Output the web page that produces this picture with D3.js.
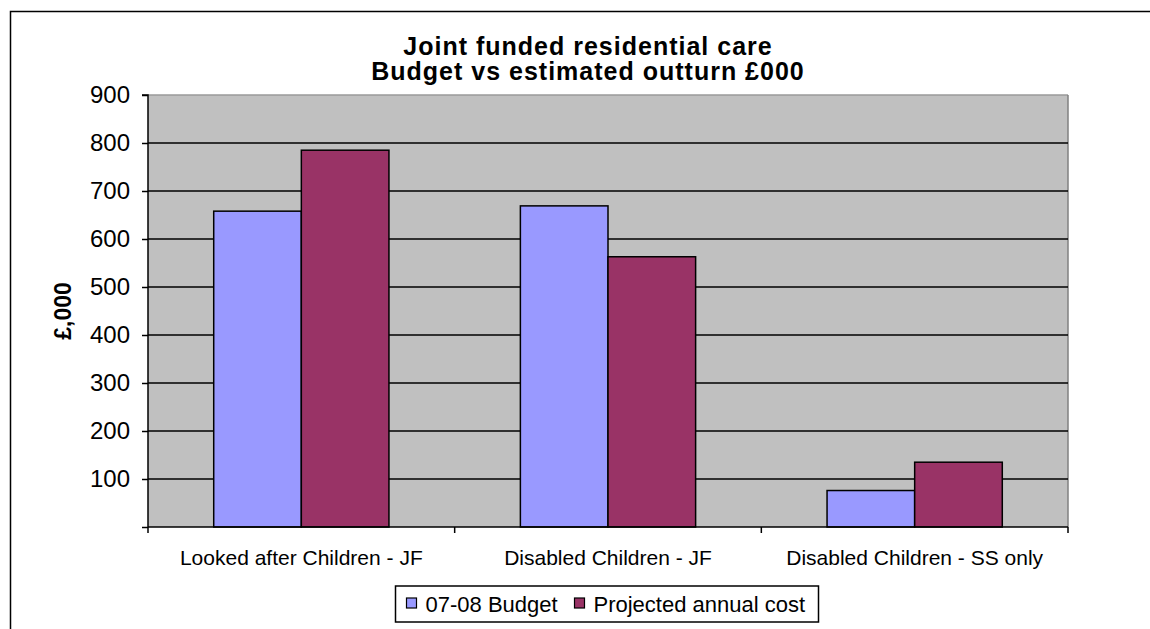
<!DOCTYPE html>
<html>
<head>
<meta charset="utf-8">
<script src="https://cdn.jsdelivr.net/npm/d3@7"></script>
<style>
  html, body { margin: 0; padding: 0; background: #ffffff; }
  svg { display: block; font-family: Arial, "Liberation Sans", sans-serif; }
</style>
</head>
<body>
<svg id="chart" width="1150" height="629"></svg>
<script>
// ---- data ----
const categories = ["Looked after Children - JF", "Disabled Children - JF", "Disabled Children - SS only"];
const seriesNames = ["07-08 Budget", "Projected annual cost"];
const budget = [658, 669, 76];
const projected = [785, 563, 135];
const yTickValues = [0, 100, 200, 300, 400, 500, 600, 700, 800, 900];
const yLabelValues = [100, 200, 300, 400, 500, 600, 700, 800, 900];
const titleLines = ["Joint funded residential care", "Budget vs estimated outturn £000"];
const yAxisTitle = "£,000";
const colors = ["#9999FF", "#993366"];

const svg = d3.select("#chart");

// outer chart border
svg.append("rect")
  .attr("x", 10.5).attr("y", 11.5)
  .attr("width", 1160).attr("height", 640)
  .attr("fill", "#ffffff").attr("stroke", "#000").attr("stroke-width", 1.5);

const plot = { left: 148, right: 1068, top: 95, bottom: 527 };

const x = d3.scaleBand().domain(categories).range([plot.left, plot.right]).paddingInner(0).paddingOuter(0);
const xs = d3.scaleBand().domain(seriesNames).range([0, x.bandwidth()]).paddingInner(0).paddingOuter(0.75);
const y = d3.scaleLinear().domain([0, 900]).range([plot.bottom, plot.top]);

// plot area background
svg.append("rect")
  .attr("x", plot.left).attr("y", plot.top)
  .attr("width", plot.right - plot.left).attr("height", plot.bottom - plot.top)
  .attr("fill", "#C0C0C0");

// top and right border of plot area
svg.append("line").attr("x1", plot.left).attr("x2", plot.right).attr("y1", plot.top).attr("y2", plot.top)
  .attr("stroke", "#9a9a9a").attr("stroke-width", 1.5);
svg.append("line").attr("x1", plot.right).attr("x2", plot.right).attr("y1", plot.top).attr("y2", plot.bottom)
  .attr("stroke", "#808080").attr("stroke-width", 1.5);

// gridlines
svg.append("g").selectAll("line")
  .data(yTickValues.filter(v => v > 0 && v < 900))
  .join("line")
  .attr("x1", plot.left).attr("x2", plot.right)
  .attr("y1", d => y(d)).attr("y2", d => y(d))
  .attr("stroke", "#000").attr("stroke-width", 1.5);

// bars
const data = categories.map((c, i) => ({ cat: c, values: [budget[i], projected[i]] }));
const groups = svg.append("g").selectAll("g")
  .data(data).join("g")
  .attr("transform", d => `translate(${x(d.cat)},0)`);
groups.selectAll("rect")
  .data(d => d.values.map((v, j) => ({ name: seriesNames[j], v, j })))
  .join("rect")
  .attr("x", d => xs(d.name))
  .attr("width", xs.bandwidth())
  .attr("y", d => y(d.v))
  .attr("height", d => y(0) - y(d.v))
  .attr("fill", d => colors[d.j])
  .attr("stroke", "#000").attr("stroke-width", 1.5);

// y axis
const yAxis = d3.axisLeft(y).tickValues(yTickValues).tickSize(6)
  .tickFormat(d => yLabelValues.includes(d) ? d : "");
const yg = svg.append("g").attr("transform", `translate(${plot.left},0)`).call(yAxis);
yg.select(".domain").attr("stroke", "#000").attr("stroke-width", 1.5).attr("d", `M-6,${plot.top}H0V${plot.bottom}`);
yg.selectAll(".tick line").attr("stroke", "#000").attr("stroke-width", 1.5);
yg.selectAll(".tick text")
  .attr("x", -18).attr("dy", "0.32em")
  .attr("font-size", 24).attr("fill", "#000")
  .attr("font-family", "Arial, 'Liberation Sans', sans-serif");

// x axis
const xg = svg.append("g").attr("transform", `translate(0,${plot.bottom})`);
xg.append("line").attr("x1", plot.left).attr("x2", plot.right).attr("y1", 0).attr("y2", 0)
  .attr("stroke", "#000").attr("stroke-width", 1.5);
const bounds = categories.map(c => x(c)).concat([x(categories[categories.length - 1]) + x.bandwidth()]);
xg.selectAll("line.tk").data(bounds).join("line").attr("class", "tk")
  .attr("x1", d => d).attr("x2", d => d).attr("y1", 0).attr("y2", 6)
  .attr("stroke", "#000").attr("stroke-width", 1.5);
xg.selectAll("text").data(categories).join("text")
  .attr("x", d => x(d) + x.bandwidth() / 2)
  .attr("y", 38)
  .attr("text-anchor", "middle")
  .attr("font-size", 21).attr("fill", "#000")
  .text(d => d);

// title
svg.append("g").selectAll("text").data(titleLines).join("text")
  .attr("x", 588).attr("y", (d, i) => 55 + i * 24.5)
  .attr("text-anchor", "middle")
  .attr("font-size", 25).attr("font-weight", "bold")
  .attr("letter-spacing", 1)
  .text(d => d);

// y axis title
svg.append("text")
  .attr("transform", "translate(71,311) rotate(-90)")
  .attr("text-anchor", "middle")
  .attr("font-size", 23).attr("font-weight", "bold")
  .text(yAxisTitle);

// legend
const lg = svg.append("g").attr("transform", "translate(395.5,586)");
lg.append("rect").attr("width", 423).attr("height", 36)
  .attr("fill", "#fff").attr("stroke", "#000").attr("stroke-width", 1.5);
const legendX = [11, 179];
const legendTextX = [30, 198];
seriesNames.forEach((s, i) => {
  lg.append("rect").attr("x", legendX[i]).attr("y", 12).attr("width", 10).attr("height", 10)
    .attr("fill", colors[i]).attr("stroke", "#000").attr("stroke-width", 1.2);
  lg.append("text").attr("x", legendTextX[i]).attr("y", 25.5)
    .attr("font-size", 22).text(s);
});
</script>
</body>
</html>
